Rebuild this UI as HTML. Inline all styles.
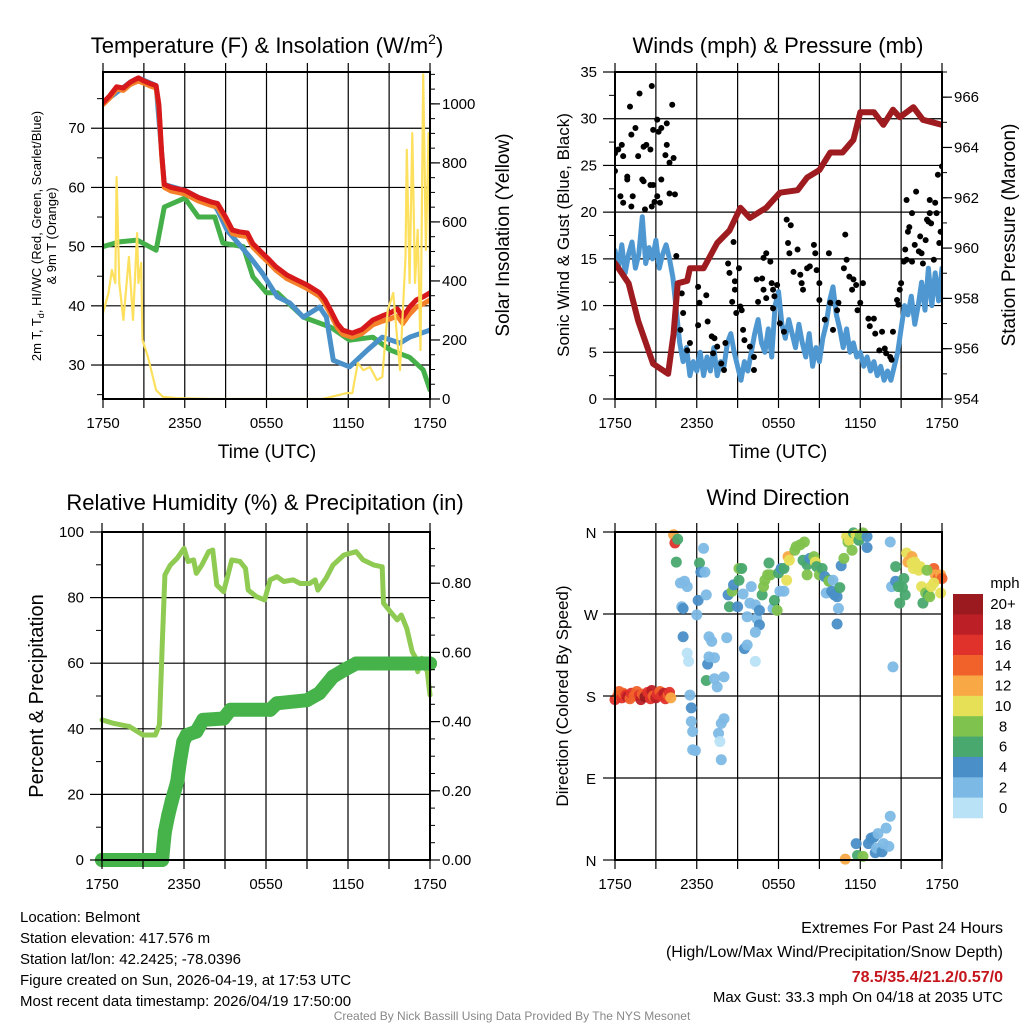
<!DOCTYPE html>
<html><head><meta charset="utf-8"><style>
html,body{margin:0;padding:0;background:#fff}
svg{display:block;font-family:"Liberation Sans",Arial,sans-serif}
</style></head><body>
<svg id="chart" xmlns="http://www.w3.org/2000/svg" width="1024" height="1024" viewBox="0 0 1024 1024"></svg>
<script>
// ---------- DATA ----------
const tTimes=[0,0.5,1,1.5,2,2.6,3,3.5,3.9,4.1,4.3,4.5,5,6,7,8,8.4,9,9.5,10,10.6,11,11.7,12.2,12.7,13.5,14.2,15,15.9,16.3,16.7,17.2,17.6,18.3,19,19.8,20.5,21.1,21.6,22,22.5,23,23.5,24];
const tempRed=[74.3,75.5,77,76.8,77.8,78.5,78,77.5,77.2,74,66,60.5,60,59.5,58.3,57.5,57.3,55,52.8,52.5,52.3,50.5,48.9,47.8,46.6,45.2,44.4,43.5,42.2,41,39.3,37,35.9,35.4,36,37.6,38.3,38.8,39.5,38.1,39.8,41,41.5,42.2];
const temp9m=[74,75.1,76.6,76.4,77.4,78,77.6,77.1,76.8,73.5,65.5,60,59.4,58.9,57.7,56.9,56.7,54.4,52.2,51.9,51.7,49.9,48.3,47.2,46,44.6,43.8,42.9,41.6,40.3,38.6,36.3,35.2,34.7,35.3,36.8,37.4,37.8,38.3,37,38.6,39.8,40.3,41];
const wcTimes=[0,2,2.6,3.9,4.3,4.5,6,7,8,8.4,9.1,10.8,11.7,12.8,13.7,14.7,15.9,16.4,16.9,18.1,19.4,20.5,21.8,22.5,24];
const windChill=[74.3,77.8,78.5,77.2,66,60.5,59.5,58.3,57.5,56.2,52.8,48.2,45.5,41.5,40.5,38.1,39.8,38.1,30.8,29.7,32.5,34.7,33.7,34.7,35.9];
const tdTimes=[0,1.2,2.5,3.9,4.5,6,7,8.2,8.8,10.3,11,12,12.8,14.7,16.7,18.1,19.8,21.1,22.5,23.5,24];
const dewpoint=[50,50.8,51.1,49.4,56.7,58.2,55,55,50.6,50,44.9,42.2,42.2,38.1,36.4,34.2,34.7,32.5,31.3,29.2,25.8];
const solTimes=[0,0.4,0.65,0.9,1.0,1.2,1.5,1.9,2.2,2.5,2.6,2.8,2.9,3.3,3.9,4.4,5.4,8,12,16.1,17.9,18.3,18.7,19.1,19.6,20.1,20.5,20.9,21.3,21.8,22.2,22.3,22.5,22.7,22.9,23.1,23.3,23.5,23.7,23.9,24];
const solar=[291,359,437,393,752,393,268,481,268,562,393,461,200,142,30,7,3,0,0,0,20,20,122,98,108,64,75,302,359,98,481,844,393,901,393,573,166,1100,505,901,447];
const windTimes=[0,0.25,0.5,0.75,1,1.25,1.5,1.75,2,2.25,2.5,2.75,3,3.25,3.5,3.75,4,4.25,4.5,4.75,5,5.25,5.5,5.75,6,6.25,6.5,6.75,7,7.25,7.5,7.75,8,8.25,8.5,8.75,9,9.25,9.5,9.75,10,10.25,10.5,10.75,11,11.25,11.5,11.75,12,12.25,12.5,12.75,13,13.25,13.5,13.75,14,14.25,14.5,14.75,15,15.25,15.5,15.75,16,16.25,16.5,16.75,17,17.25,17.5,17.75,18,18.25,18.5,18.75,19,19.25,19.5,19.75,20,20.25,20.5,20.75,21,21.25,21.5,21.75,22,22.25,22.5,22.75,23,23.25,23.5,23.75,24];
const windSpeed=[15.9,14,16.5,13.5,15.5,16.8,14,15.5,19.5,14.5,16.2,15,17,14,15.5,16.5,15,13,9.5,6,4,5.5,2.5,4,3,5,2.5,4.5,3,5.5,2.5,4,3.5,6,7,5,3.5,2,4,3,5,7,8.5,6,5,7.5,4.5,10,11.5,8,6.5,8.5,7,5.5,8,6,4.5,7,3.5,5.5,4,6.5,8,10.5,12,9,7.5,5.5,7.5,5,6,4.5,5,3.5,4.5,3,4,2.5,3.5,2,3,2,3.5,5,7.5,10,9,11,8,10,12.5,9.5,14,10,13.5,10.5,14];
const gustTimes=[0,0,0.24,0.5,0.6,1.1,1.2,1.5,1.8,2.7,2.1,2.3,2.6,2,0.9,0.4,0.6,1.2,0.9,1.3,1.7,2.1,2.6,2.8,3.1,3.4,2.8,3.2,3.8,4.2,3.8,3.7,4,4.3,3.4,3.1,3.3,2.7,4,4.4,2.2,2.9,4.5,4.9,5,4.8,5.3,5.5,6.1,6.2,6.7,6.1,6.8,7.1,7.3,7.5,7.2,7.8,8,8.1,8.7,8.3,8.4,8.8,9.1,8.8,8.6,9.2,9.3,8.9,9.4,9.5,9.9,10.2,10.2,10.4,10.8,10.9,10.5,11.1,10.9,11.1,11.4,11.5,11.6,11.9,11.7,11.6,12.1,12.4,12.6,12.9,12.7,12.8,13.1,13.4,13.6,13.7,13.8,14.1,14.3,14.6,14.7,14.8,15,15,15.7,15.4,15.8,16,16.3,16.4,16.9,17,16.8,17.2,17.5,17.7,17.4,18,18.2,17.8,18.6,19,18.7,19.1,19.4,19.6,19.8,19.9,20.2,20.3,20.4,20.7,20.8,20.9,21,21.2,21.4,21.3,21.5,21.6,21.8,21.4,22.1,22,22.3,22.4,22.5,22.8,22.9,23,23.1,23.1,23.2,23.4,23.5,23.6,23.7,23.8,23.9,24,22.6,21.8];
const gustSpeed=[26.3,24.4,26.7,27.2,26,31.3,28.3,29,32.7,33.5,27,27.2,26.7,23.5,23.5,21.7,21,20.6,23.8,21.7,26,23.3,22.9,22.9,29.9,29,28.8,28.6,29.5,31.5,27.2,26.1,25.3,25.8,23.5,21.7,21,20.6,22,21.9,20.3,21.1,15.3,11.3,9.2,7.4,5.2,6,12,10.3,11.1,7.9,8.3,6.7,6.5,5.6,4.9,3.8,3.1,6,16.8,14.5,13.5,12.6,14,11.7,10.4,9.9,9.5,9.2,7.4,6.3,5.6,4.5,3.1,12.8,12.9,11.7,10.4,10.8,15.1,15.6,14.7,12.4,11.7,12.2,11,9.7,8.1,7.2,19.2,18.6,16.7,15.6,13.6,16,13.3,12.4,11.7,14,14.2,16.5,15.6,13.8,12.4,10.6,15.6,8.5,10.3,7.4,9.5,10.3,17.6,14.9,14,13.1,12.8,12.2,11.7,10.3,12.4,9.5,8.6,8.6,7.8,7,5.2,7.2,5.4,4.9,4.5,4.2,7.2,10.6,10.1,11.7,12.4,14.7,14.9,16,17.9,18.4,19.9,21.3,22.2,16.5,15.8,17.4,15.6,17,19.2,19,21.3,19.9,18.8,14.9,21,19.9,24,16.7,17.9,24.9,14.5,14.7];
const presTimes=[0,1,1.7,2.8,3.9,4.3,4.6,5.3,5.5,6.5,7.5,8.4,9.2,9.9,11.1,12.1,13.4,14.1,15,15.8,16.7,17.5,18,19,19.7,20.4,20.9,21.9,22.6,23.3,24];
const pressure=[959.4,958.6,957.1,955.4,955.0,956.6,958.6,958.7,959.2,959.2,960.2,960.7,961.6,961.2,961.6,962.2,962.3,962.8,963.1,963.8,963.8,964.3,965.4,965.4,964.9,965.5,965.2,965.6,965.1,965.0,964.9];
const rhTimes=[0,0.8,2,3,3.9,4.2,4.4,4.6,5,5.5,6,6.3,6.7,6.9,7.3,7.8,8.1,8.4,8.9,9.5,10.1,10.5,10.7,11.3,11.9,12.3,12.8,13.3,14,14.5,15.2,15.6,15.8,16.4,16.9,17.7,18.6,19.1,19.9,20.5,20.6,21.2,21.6,21.9,22.3,22.7,22.9,23.1,23.4,23.8,24];
const relHum=[42.7,41.7,40.7,38.1,38.1,41.2,64.5,86.9,89.9,92,95,91,91.5,87.4,89.9,94,94.5,83.8,81.8,91.5,91,88.9,82.3,80.3,79.3,85.4,86.4,84.9,85.4,84.3,84.3,85.4,82.3,85.9,89.9,93,94,91.5,89.9,89.4,78.3,75.2,73.2,74.7,70.6,63.5,62,57.4,61.5,57.4,50.3];
const prTimes=[0,0.5,1,1.5,2,2.5,3,3.5,4,4.4,4.5,4.6,4.85,5.1,5.5,5.7,5.95,6.2,6.9,7.4,8.9,9.4,12.3,12.8,15,15.9,16.9,17.7,18.6,20,22,24];
const precip=[0,0,0,0,0,0,0,0,0,0,0.043,0.082,0.13,0.17,0.226,0.284,0.342,0.361,0.371,0.405,0.409,0.434,0.434,0.453,0.462,0.482,0.53,0.549,0.568,0.568,0.568,0.568];
const dirTimes=[0,0.2,0.3,0.5,0.6,0.8,0.9,1.1,1.2,1.4,1.6,1.8,1.9,2.0,2.2,2.4,2.6,2.7,2.8,3.0,3.1,3.3,3.4,3.6,3.7,3.9,4.0,4.1,4.3,4.4,4.6,4.5,4.8,5.1,5.3,4.9,5,5,5.3,5.4,5.5,5.6,5.6,5.7,5.7,5.9,6,6.1,6.2,6.3,6.5,6.6,6.7,6.7,6.8,6.9,7.1,6.9,7.3,7.3,7.5,7.6,7.7,7.8,8,7.8,8,8.2,8.3,8.4,8.6,8.7,9,9.1,9.1,9.3,9.4,9.5,9.7,9.7,9.9,10,10.3,10.4,10.6,10.6,10.3,10.3,10.8,10.9,11,11.2,11.3,11.4,11.6,11.7,11.9,12,12.1,12.2,12.4,12.4,12.6,12.7,12.8,13.2,13.3,13.6,13.9,13.8,14.1,14.1,14.3,14.6,14.7,14.8,15,15.2,15.4,15.7,15.7,15.5,15.9,16,16.1,16.3,16.4,16.3,16.5,16.6,16.8,16.9,17,17.1,17.2,17.4,17.5,17.7,17.9,18,18.2,18.5,18.5,17.7,17.8,18.2,18.6,18.8,19,19.1,19.2,19.3,19.6,19.7,19.9,20.1,20.2,20.2,20.3,20.4,20.6,20.6,20.8,20.9,21.1,21.2,21.3,21.4,21.5,21.8,21.9,22,22.3,22.4,22.5,22.6,22.8,23,23.1,23.2,23.4,23.5,23.7,23.9,24,23.9,23.4,22.9,21.8];
const dirDeg=[176,180,185,178,183,181,179,177,183,180,185,181,176,182,179,184,177,186,180,178,182,185,180,183,177,181,184,178,357,348,352,327,304,306,300,278,276,245,227,218,181,167,152,141,121,120,269,285,326,316,342,316,291,197,215,245,240,223,222,199,190,139,130,150,155,110,201,244,291,278,295,302,278,307,320,320,292,232,236,267,282,300,280,265,274,258,250,218,291,300,307,313,326,313,276,285,274,315,295,320,320,295,307,333,329,340,344,346,349,329,324,313,331,333,327,322,313,320,311,307,306,293,295,307,291,289,276,259,299,323,331,1,355,349,351,340,359,357,351,357,359,343,355,18,5,4,18,24,25,8,13,29,9,18,35,15,48,349,300,212,322,306,300,282,299,309,291,337,327,333,320,327,318,322,300,282,293,291,289,300,320,313,309,313,309,293,304,318,326];
const dirSpeed=[16,14,14,16,14,16,18,14,16,14,14,16,18,14,20,16,16,18,14,18,16,14,16,18,16,14,16,12,13,16,6,6,2,2,2,2,4,4,0,0,2,4,2,2,2,2,2,4,6,4,2,2,2,6,4,2,2,2,2,2,2,2,0,2,2,2,2,2,4,6,8,4,4,6,8,6,2,4,2,2,2,2,2,2,4,4,2,0,6,8,8,8,6,8,2,6,8,6,2,4,6,2,10,12,10,8,8,8,8,6,6,8,4,8,10,6,8,6,4,6,8,2,4,2,4,4,2,4,6,4,8,12,10,8,10,8,6,10,6,8,8,4,4,4,6,8,4,4,4,4,2,2,4,2,2,2,2,2,2,2,6,4,6,6,6,6,6,10,12,12,10,10,10,10,10,6,8,6,8,10,14,12,14,12,14,10,10,8,10];
const cbLabels=["20+","18","16","14","12","10","8","6","4","2","0"];
const cbColors=["#9a1a1f","#bd1f26","#e0322b","#f0622a","#f8a845","#e6e056","#7fc24d","#48a86e","#4a8fc7","#7db9e5","#b9e2f7"];
const xTickLabels=["1750","2350","0550","1150","1750"];

// ---------- HELPERS ----------
const NS="http://www.w3.org/2000/svg";
const svg=document.getElementById("chart");
function mk(tag,attrs,parent){const e=document.createElementNS(NS,tag);for(const k in attrs)e.setAttribute(k,attrs[k]);(parent||svg).appendChild(e);return e;}
function txt(x,y,s,size,anchor,rot,parent){const t=mk("text",{x:x,y:y,"font-size":size,"text-anchor":anchor||"middle",fill:"#000"},parent);if(rot)t.setAttribute("transform","rotate("+rot+" "+x+" "+y+")");t.textContent=s;return t;}
function lin(d0,d1,r0,r1){return v=>r0+(v-d0)/(d1-d0)*(r1-r0);}
function pathD(xs,ys,fx,fy){return xs.map((t,i)=>(i?"L":"M")+fx(t).toFixed(1)+","+fy(ys[i]).toFixed(1)).join("");}
function colorFor(s){let i=Math.min(10,Math.floor(s/2));return cbColors[10-i];}

function frame(g,P){
  for(let h=3;h<24;h+=3){const l=mk("line",{x1:P.x(h),x2:P.x(h),y1:P.T,y2:P.B,stroke:"#000","stroke-width":1.2},g);
    
    }
  P.hgrid.forEach(y=>{const l=mk("line",{x1:P.L,x2:P.R,y1:y,y2:y,stroke:"#000","stroke-width":1.2},g);
    
    });
}
function axes(g,P){
  const r=mk("rect",{x:P.L,y:P.T,width:P.R-P.L,height:P.B-P.T,fill:"none",stroke:"#000","stroke-width":2},g);
  
  
  for(let h=0;h<=24;h+=3){mk("line",{x1:P.x(h),x2:P.x(h),y1:P.B,y2:P.B+9,stroke:"#000","stroke-width":1.2},g);mk("line",{x1:P.x(h),x2:P.x(h),y1:P.T,y2:P.T-9,stroke:"#000","stroke-width":1.2},g);}
  xTickLabels.forEach((s,i)=>{const t=txt(P.x(i*6),P.B+29,s,15,"middle",0,g);
    
    });
}
function leftTicks(g,P,vals,labels,fy,minor){
  minor.forEach(v=>mk("line",{x1:P.L-6,x2:P.L,y1:fy(v),y2:fy(v),stroke:"#000","stroke-width":1},g));
  vals.forEach((v,i)=>{mk("line",{x1:P.L-12,x2:P.L,y1:fy(v),y2:fy(v),stroke:"#000","stroke-width":1.2},g);
    const t=txt(P.L-18,fy(v)+5,labels[i],15,"end",0,g);
    
    });
}
function rightTicks(g,P,vals,labels,fy,minor){
  minor.forEach(v=>mk("line",{x1:P.R,x2:P.R+5,y1:fy(v),y2:fy(v),stroke:"#000","stroke-width":1},g));
  vals.forEach((v,i)=>{mk("line",{x1:P.R,x2:P.R+10,y1:fy(v),y2:fy(v),stroke:"#000","stroke-width":1.2},g);
    const t=txt(P.R+12,fy(v)+5,labels[i],15,"start",0,g);
    
    });
}
function line(g,xs,ys,fx,fy,color,w,name){const p=mk("path",{d:pathD(xs,ys,fx,fy),fill:"none",stroke:color,"stroke-width":w,"stroke-linejoin":"round","stroke-linecap":"round"},g);
  
  return p;}
function range(a,b,s){const r=[];for(let v=a;v<=b+1e-9;v+=s)r.push(+v.toFixed(3));return r;}

// ---------- PANEL 1 ----------
{
const g=mk("g",{});


const P={L:103,R:430,T:72,B:399};P.x=lin(0,24,P.L,P.R);
const fy=lin(24.26,79.5,P.B,P.T), fs=lin(0,1108,P.B,P.T);
P.hgrid=[30,40,50,60,70].map(fy);
frame(g,P);
const cp=mk("clipPath",{id:"c1"},svg);mk("rect",{x:P.L,y:P.T,width:P.R-P.L,height:P.B-P.T},cp);
const c=mk("g",{"clip-path":"url(#c1)"},g);
line(c,tdTimes,dewpoint,P.x,fy,"#45b04a",5,"dewpoint-line");
line(c,wcTimes,windChill,P.x,fy,"#4a90c9",5,"wind-chill-line");
line(c,tTimes,temp9m,P.x,fy,"#f4802a",5,"temp-9m-line");
line(c,tTimes,tempRed,P.x,fy,"#d7191c",5,"temp-2m-line");
line(c,solTimes,solar,P.x,fs,"#fde05d",2.2,"solar-insolation-line");
axes(g,P);
leftTicks(g,P,[30,40,50,60,70],["30","40","50","60","70"],fy,[25,35,45,55,65,75]);
rightTicks(g,P,[0,200,400,600,800,1000],["0","200","400","600","800","1000"],fs,range(50,1100,50));
const ti=mk("text",{x:267,y:53,"font-size":22,"text-anchor":"middle"},g);


ti.innerHTML='Temperature (F) &amp; Insolation (W/m<tspan dy="-9" font-size="14">2</tspan><tspan dy="9">)</tspan>';
const yl=mk("text",{x:41,y:236,"font-size":13,"text-anchor":"middle",transform:"rotate(-90 41 236)"},g);


yl.innerHTML='2m T, T<tspan dy="3" font-size="9">d</tspan><tspan dy="-3">, HI/WC (Red, Green, Scarlet/Blue)</tspan>';
const yl2=txt(56,236,"& 9m T (Orange)",13,"middle",-90,g);


const yr=txt(509,235,"Solar Insolation (Yellow)",19,"middle",-90,g);


const xt=txt(267,458,"Time (UTC)",19,"middle",0,g);


}
// ---------- PANEL 2 ----------
{
const g=mk("g",{});


const P={L:615,R:942,T:72,B:399};P.x=lin(0,24,P.L,P.R);
const fy=lin(0,35,P.B,P.T), fp=lin(954,967,P.B,P.T);
P.hgrid=[5,10,15,20,25,30].map(fy);
frame(g,P);
const cp=mk("clipPath",{id:"c2"},svg);mk("rect",{x:P.L,y:P.T,width:P.R-P.L,height:P.B-P.T},cp);
const c=mk("g",{"clip-path":"url(#c2)"},g);
line(c,windTimes,windSpeed,P.x,fy,"#4e97d1",5,"sonic-wind-line");
gustTimes.forEach((t,i)=>{const d=mk("circle",{cx:P.x(t),cy:fy(gustSpeed[i]),r:3,fill:"#000"},c);
  
  });
line(c,presTimes,pressure,P.x,fp,"#9e1b20",6,"pressure-line");
axes(g,P);
leftTicks(g,P,range(0,35,5),range(0,35,5).map(String),fy,range(2.5,32.5,5));
rightTicks(g,P,range(954,966,2),range(954,966,2).map(String),fp,range(955,967,1));
const ti=txt(778,53,"Winds (mph) & Pressure (mb)",22,"middle",0,g);


const yl=txt(569,235,"Sonic Wind & Gust (Blue, Black)",17,"middle",-90,g);


const yr=txt(1015,235,"Station Pressure (Maroon)",19,"middle",-90,g);


const xt=txt(778,458,"Time (UTC)",19,"middle",0,g);


}
// ---------- PANEL 3 ----------
{
const g=mk("g",{});


const P={L:102,R:430,T:532,B:860};P.x=lin(0,24,P.L,P.R);
const fy=lin(0,100,P.B,P.T), fpr=lin(0,0.948,P.B,P.T);
P.hgrid=[20,40,60,80].map(fy);
frame(g,P);
line(g,rhTimes,relHum,P.x,fy,"#8fcb52",5,"relative-humidity-line");
line(g,prTimes,precip,P.x,fpr,"#46b34a",14,"precipitation-line");
prTimes.forEach((t,i)=>{const d=mk("circle",{cx:P.x(t),cy:fpr(precip[i]),r:7,fill:"#46b34a"},g);
  
  });
axes(g,P);
leftTicks(g,P,range(0,100,20),range(0,100,20).map(String),fy,range(10,90,20));
rightTicks(g,P,[0,0.2,0.4,0.6,0.8],["0.00","0.20","0.40","0.60","0.80"],fpr,range(0.05,0.9,0.05));
const ti=txt(265,510,"Relative Humidity (%) & Precipitation (in)",22,"middle",0,g);


const yl=txt(43,696,"Percent & Precipitation",20,"middle",-90,g);


}
// ---------- PANEL 4 ----------
{
const g=mk("g",{});


const P={L:615,R:942,T:532,B:860};P.x=lin(0,24,P.L,P.R);
const fy=lin(0,360,P.B,P.T);
P.hgrid=[90,180,270].map(fy);
frame(g,P);
dirTimes.forEach((t,i)=>{const d=mk("circle",{cx:P.x(t),cy:fy(dirDeg[i]),r:5.5,fill:colorFor(dirSpeed[i]),"fill-opacity":0.95},g);
  
  });
axes(g,P);
const dl=["N","E","S","W","N"];
[0,90,180,270,360].forEach((v,i)=>{mk("line",{x1:P.L-12,x2:P.L,y1:fy(v),y2:fy(v),stroke:"#000","stroke-width":1.2},g);
  const t=txt(591,fy(v)+6,dl[i],15,"middle",0,g);
  
  });
const ti=txt(778,505,"Wind Direction",22,"middle",0,g);


const yl=txt(568,696,"Direction (Colored By Speed)",17,"middle",-90,g);


const cb=mk("g",{},g);


const bh=224/11;
cbColors.forEach((col,i)=>{const r=mk("rect",{x:953,y:594+i*bh,width:30,height:bh+0.3,fill:col},cb);
  
  
  const t=txt(1003,594+i*bh+bh/2+5,cbLabels[i],15,"middle",0,cb);
  
  });
const u=txt(1005,588,"mph",15,"middle",0,cb);


}
// ---------- FOOTER ----------
{
const g=mk("g",{});


const left=["Location: Belmont","Station elevation: 417.576 m","Station lat/lon: 42.2425; -78.0396","Figure created on Sun, 2026-04-19, at 17:53 UTC","Most recent data timestamp: 2026/04/19 17:50:00"];
left.forEach((s,i)=>{const t=txt(20,922+i*21,s,15,"start",0,g);
  
  });
const r1=txt(1003,933,"Extremes For Past 24 Hours",16,"end",0,g);


const r2=txt(1003,957,"(High/Low/Max Wind/Precipitation/Snow Depth)",16,"end",0,g);


const r3=txt(1003,982,"78.5/35.4/21.2/0.57/0",16,"end",0,g);
r3.setAttribute("fill","#c4161c");r3.setAttribute("font-weight","bold");


const r4=txt(1003,1002,"Max Gust: 33.3 mph On 04/18 at 2035 UTC",15,"end",0,g);


const cr=txt(512,1020,"Created By Nick Bassill Using Data Provided By The NYS Mesonet",12,"middle",0,g);
cr.setAttribute("fill","#888");


}
</script>
</body></html>
